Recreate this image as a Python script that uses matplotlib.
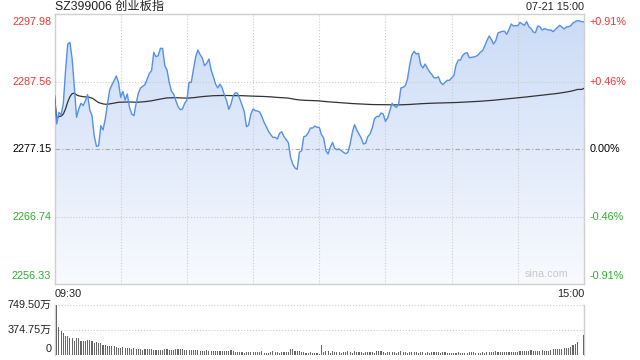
import numpy as np
import matplotlib
matplotlib.use('Agg')
import matplotlib.pyplot as plt
from matplotlib.colors import LinearSegmentedColormap

plt.rcParams['font.family'] = ['Liberation Sans', 'Noto Sans CJK SC', 'DejaVu Sans']

title = 'SZ399006 创业板指'
date_label = '07-21 15:00'
prev_close = 2277.15
price_ticks = [2297.98, 2287.56, 2277.15, 2266.74, 2256.33]
pct_labels = ['+0.91%', '+0.46%', '0.00%', '-0.46%', '-0.91%']
vol_ticks = [749.50, 374.75, 0]
vol_labels = ['749.50万', '374.75万', '0']
time_labels = ['09:30', '15:00']

# 分时价格 (09:30 - 11:30, 13:01 - 15:00)
price = [
    2285.38, 2281.01, 2282.81, 2282.40, 2284.20, 2289.24, 2293.35, 2293.61, 2291.04, 2286.67,
    2282.04, 2283.33, 2284.20, 2283.84, 2284.61, 2285.54, 2283.17, 2282.30, 2279.21, 2277.57,
    2277.67, 2280.75, 2280.09, 2281.78, 2284.10, 2286.26, 2287.03, 2287.70, 2288.42, 2287.44,
    2285.13, 2286.05, 2284.71, 2285.64, 2283.58, 2282.55, 2282.30, 2284.20, 2285.74, 2286.57,
    2286.82, 2287.08, 2287.95, 2288.83, 2289.24, 2292.07, 2291.40, 2291.55, 2292.68, 2292.68,
    2290.01, 2289.34, 2287.44, 2286.05, 2285.64, 2284.61, 2283.69, 2283.22, 2283.33, 2284.20,
    2284.71, 2287.44, 2287.44, 2289.50, 2291.40, 2292.43, 2291.71, 2291.19, 2290.01, 2290.37,
    2291.04, 2289.34, 2288.31, 2287.18, 2286.57, 2287.18, 2286.57, 2285.49, 2284.61, 2283.27,
    2284.10, 2285.38, 2285.84, 2285.74, 2284.87, 2283.94, 2282.97, 2280.60, 2280.86, 2282.55,
    2283.33, 2283.07, 2283.02, 2282.86, 2282.14, 2281.27, 2280.60, 2279.88, 2279.37, 2278.95,
    2278.95, 2278.70, 2279.57, 2279.83, 2279.06, 2278.59, 2278.13, 2275.87, 2274.84, 2274.22,
    2274.02, 2276.64, 2276.90, 2279.06, 2279.16, 2279.67, 2280.39, 2280.39, 2280.70, 2280.50,
    2280.50, 2279.37, 2278.85, 2276.90, 2276.38, 2277.41, 2278.18, 2277.26, 2277.05, 2277.16,
    2276.90, 2276.64, 2276.43, 2276.64, 2277.93, 2279.73, 2280.91, 2280.09, 2279.47, 2278.85,
    2277.93, 2278.03, 2279.06, 2279.47, 2280.34, 2281.78, 2282.19, 2282.14, 2282.71, 2282.55,
    2281.42, 2281.94, 2283.07, 2284.20, 2283.79, 2283.58, 2284.10, 2286.57, 2286.67, 2286.92,
    2287.95, 2290.16, 2291.71, 2292.22, 2291.81, 2291.91, 2290.16, 2289.65, 2290.27, 2289.60,
    2289.08, 2288.67, 2288.16, 2288.11, 2288.31, 2287.44, 2287.08, 2287.44, 2287.75, 2287.75,
    2288.11, 2288.47, 2290.11, 2290.88, 2290.88, 2291.60, 2291.91, 2292.02, 2291.24, 2291.30,
    2291.35, 2291.45, 2291.66, 2292.07, 2292.32, 2293.04, 2293.87, 2294.59, 2294.07, 2293.35,
    2293.87, 2295.05, 2295.20, 2295.31, 2295.31, 2294.84, 2295.61, 2296.44, 2296.13, 2296.18,
    2296.18, 2296.69, 2296.44, 2296.23, 2296.80, 2296.03, 2295.72, 2295.20, 2295.10, 2296.13,
    2296.03, 2295.51, 2295.72, 2295.61, 2295.51, 2295.51, 2295.25, 2295.61, 2295.92, 2296.23,
    2295.97, 2295.67, 2295.97, 2296.03, 2296.18, 2296.59, 2296.80, 2296.95, 2296.90, 2296.80,
    2296.80,
]

# 成交量 (万)
volume = [
    189, 749.5, 418, 357, 326, 280, 280, 250, 250, 214,
    250, 250, 214, 214, 214, 230, 230, 204, 184, 199,
    184, 173, 143, 143, 133, 138, 138, 128, 122, 112,
    112, 122, 112, 112, 112, 92, 107, 97, 97, 97,
    82, 97, 87, 87, 87, 82, 82, 82, 71, 82,
    97, 87, 82, 82, 82, 87, 97, 87, 87, 82,
    82, 71, 71, 71, 71, 71, 61, 61, 61, 71,
    61, 61, 61, 61, 61, 61, 61, 61, 61, 61,
    77, 61, 51, 51, 51, 51, 36, 51, 51, 51,
    51, 51, 51, 51, 61, 31, 36, 36, 51, 61,
    51, 51, 36, 46, 46, 46, 51, 87, 87, 61,
    61, 61, 51, 46, 36, 36, 46, 36, 36, 36,
    10, 153, 46, 61, 61, 36, 61, 51, 51, 51,
    36, 51, 51, 61, 51, 36, 61, 51, 51, 51,
    36, 51, 51, 51, 51, 36, 61, 61, 61, 51,
    36, 51, 51, 51, 51, 36, 51, 61, 51, 51,
    36, 51, 51, 51, 51, 31, 51, 51, 36, 51,
    31, 51, 51, 51, 51, 31, 51, 51, 36, 36,
    36, 36, 36, 51, 36, 36, 36, 36, 51, 51,
    51, 36, 36, 36, 51, 36, 51, 51, 51, 51,
    61, 51, 51, 51, 51, 51, 51, 51, 51, 51,
    51, 61, 61, 61, 61, 61, 71, 61, 61, 61,
    61, 71, 61, 61, 61, 71, 87, 87, 87, 87,
    87, 112, 112, 112, 122, 148, 163, 199, 5, 5,
    306,
]

red = '#f23535'
green = '#2fac2f'
grid_c = '#cccccc'

price = np.array(price)
volume = np.array(volume)
x = np.arange(len(price))
avg = np.cumsum(price * volume) / np.cumsum(volume)

fig = plt.figure(figsize=(6.4, 3.6), dpi=100)
ax = fig.add_axes([54.5 / 640, 1 - 284 / 360, 529.5 / 640, 270 / 360])
axv = fig.add_axes([54.5 / 640, 1 - 355 / 360, 529.5 / 640, 50 / 360])

ymin, ymax = price_ticks[-1], price_ticks[0]
ax.set_xlim(0, 240)
ax.set_ylim(ymin, ymax)

# 渐变填充
poly = ax.fill_between(x, price, ymin, color='none', lw=0)
cmap = LinearSegmentedColormap.from_list('fill', ['#f8fafe', '#cbdbf6'])
grad = np.linspace(0, 1, 256).reshape(-1, 1)
im = ax.imshow(grad, extent=[0, 240, ymin, ymax], aspect='auto', cmap=cmap,
               origin='lower', zorder=1)
im.set_clip_path(poly.get_paths()[0], transform=ax.transData)

for v in price_ticks[1:-1]:
    if v == prev_close:
        ax.axhline(v, color='#aaaaaa', lw=0.8, ls=(0, (4, 2, 1, 2)), zorder=2)
    else:
        ax.axhline(v, color=grid_c, lw=0.8, ls=':', zorder=2)
for t in range(30, 240, 30):
    ax.axvline(t, color=grid_c, lw=0.8, ls=':', zorder=2)

ax.plot(x, price, color='#5490ec', lw=1.0, zorder=4)
ax.plot(x, avg, color='#333333', lw=0.9, zorder=3)

ax.set_xticks([])
ax.set_yticks([])
for s in ax.spines.values():
    s.set_color('#cfcfcf')
    s.set_linewidth(1.0)

fs = 7.8
colors = [red, red, 'black', green, green]
for i, (v, lab, c) in enumerate(zip(price_ticks, pct_labels, colors)):
    va = 'top' if i == 0 else ('bottom' if i == len(price_ticks) - 1 else 'center')
    off = -0.45 if i == 0 else (0.45 if i == len(price_ticks) - 1 else 0)
    ax.text(-0.006, v + off, f'{v:.2f}', transform=ax.get_yaxis_transform(),
            ha='right', va=va, color=c, fontsize=fs)
    ax.text(1.011, v + off, lab, transform=ax.get_yaxis_transform(),
            ha='left', va=va, color=c, fontsize=fs)

ax.text(0.97, 0.02, 'sina.com', transform=ax.transAxes, ha='right', va='bottom',
        color='#c8c8c8', fontsize=7.8)
fig.text(55 / 640, 1 - 7 / 360, title, ha='left', va='center', fontsize=8.8, color='#222222')
fig.text(584 / 640, 1 - 7 / 360, date_label, ha='right', va='center', fontsize=fs, color='#222222')
fig.text(55 / 640, 1 - 294 / 360, time_labels[0], ha='left', va='center', fontsize=fs, color='#222222')
fig.text(584 / 640, 1 - 294 / 360, time_labels[1], ha='right', va='center', fontsize=fs, color='#222222')

# 成交量
axv.bar(x, volume, width=0.5, color='#666666', zorder=3)
axv.set_xlim(0, 240)
axv.set_ylim(0, vol_ticks[0])
for v in vol_ticks[:2]:
    axv.axhline(v, color=grid_c, lw=0.8, ls=':', zorder=1, clip_on=False)
axv.set_xticks([])
axv.set_yticks([])
for k in ['top', 'bottom']:
    axv.spines[k].set_visible(False)
for k in ['left', 'right']:
    axv.spines[k].set_color('#cfcfcf')
    axv.spines[k].set_linewidth(1.0)
for v, lab in zip(vol_ticks, vol_labels):
    yy = v if v > 0 else 90
    axv.text(-0.006, yy, lab, transform=axv.get_yaxis_transform(),
             ha='right', va='center', fontsize=fs, color='#222222')

fig.savefig('out.png', dpi=100)
